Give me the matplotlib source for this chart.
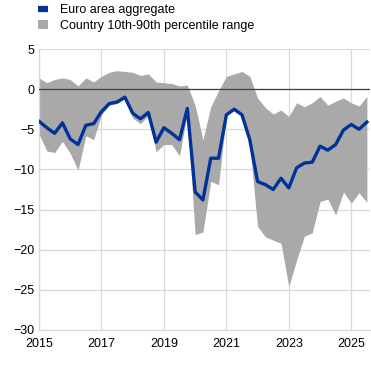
# Euro area aggregate vs country 10th-90th percentile range (quarterly)

import matplotlib.pyplot as plt
from matplotlib.lines import Line2D
from matplotlib.patches import Patch
import pandas as pd

plt.rcParams['font.family'] = ['Liberation Sans', 'DejaVu Sans']

QUARTERS = pd.period_range("2015Q1", "2025Q3", freq="Q")

euro_area = [-4.0, -4.8, -5.5, -4.2, -6.2, -6.9, -4.5, -4.3, -2.8, -1.8,
             -1.6, -1.0, -3.0, -3.7, -2.9, -6.6, -4.8, -5.5, -6.3, -2.4,
             -12.8, -13.8, -8.6, -8.6, -3.2, -2.5, -3.2, -6.3, -11.5, -11.9,
             -12.5, -11.1, -12.3, -9.8, -9.2, -9.1, -7.1, -7.6, -6.9, -5.1,
             -4.4, -5.0, -4.1]

p90 = [1.4, 0.8, 1.2, 1.4, 1.2, 0.4, 1.4, 0.9, 1.6, 2.1,
       2.3, 2.2, 2.1, 1.7, 1.9, 0.9, 0.8, 0.7, 0.4, 0.5,
       -2.0, -6.3, -2.2, -0.2, 1.6, 1.9, 2.2, 1.6, -1.1, -2.3,
       -3.1, -2.6, -3.4, -1.7, -2.2, -1.7, -0.9, -2.0, -1.5, -1.1,
       -1.7, -2.1, -0.9]

p10 = [-5.6, -7.7, -7.9, -6.5, -8.0, -10.1, -5.8, -6.3, -3.2, -2.0,
       -1.8, -1.2, -3.6, -4.3, -3.3, -7.8, -6.9, -6.9, -8.3, -3.0,
       -18.1, -17.8, -11.5, -11.9, -3.3, -2.6, -3.3, -7.0, -17.1, -18.4,
       -18.8, -19.2, -24.6, -21.3, -18.3, -17.9, -14.0, -13.7, -15.7, -12.8,
       -14.2, -12.9, -14.1]

BLUE = '#003299'
GREY = '#a9a9a9'


def main():
    x = [q.year + (q.quarter - 1) / 4 for q in QUARTERS]

    fig = plt.figure(figsize=(3.71, 3.74), dpi=100)
    ax = fig.add_axes([39 / 371, 1 - 330 / 374, 331 / 371, 281 / 374])

    ax.fill_between(x, p10, p90, color=GREY, linewidth=0, zorder=2)
    ax.axhline(0, color='#404040', linewidth=0.9, zorder=3)
    ax.plot(x, euro_area, color=BLUE, linewidth=2.4, zorder=4)

    ax.set_xlim(2015, 2025.6)
    ax.set_ylim(-30, 5)
    ax.set_xticks(range(2015, 2026, 2))
    ax.set_yticks(range(-30, 6, 5))
    ax.grid(True, color='#d9d9d9', linewidth=0.9, zorder=0)
    ax.set_axisbelow(True)
    for side in ('top', 'right'):
        ax.spines[side].set_visible(False)
    for side in ('left', 'bottom'):
        ax.spines[side].set_color('#d9d9d9')
        ax.spines[side].set_linewidth(0.9)
    ax.tick_params(axis='both', length=0, labelsize=9, colors='#000000')
    ax.tick_params(axis='x', pad=6)
    ax.tick_params(axis='y', pad=3)

    handles = [
        Line2D([], [], color=BLUE, linewidth=4.5, solid_capstyle='butt'),
        Patch(facecolor=GREY, edgecolor='none'),
    ]
    labels = ['Euro area aggregate', 'Country 10th-90th percentile range']
    fig.legend(handles, labels, loc='upper left', bbox_to_anchor=(33 / 371, 1.0 + 1 / 374),
               frameon=False, fontsize=9, handlelength=0.8, handleheight=0.75,
               handletextpad=0.95, labelspacing=0.3, borderaxespad=0.0)

    plt.savefig('out.png', dpi=100)


if __name__ == '__main__':
    main()
